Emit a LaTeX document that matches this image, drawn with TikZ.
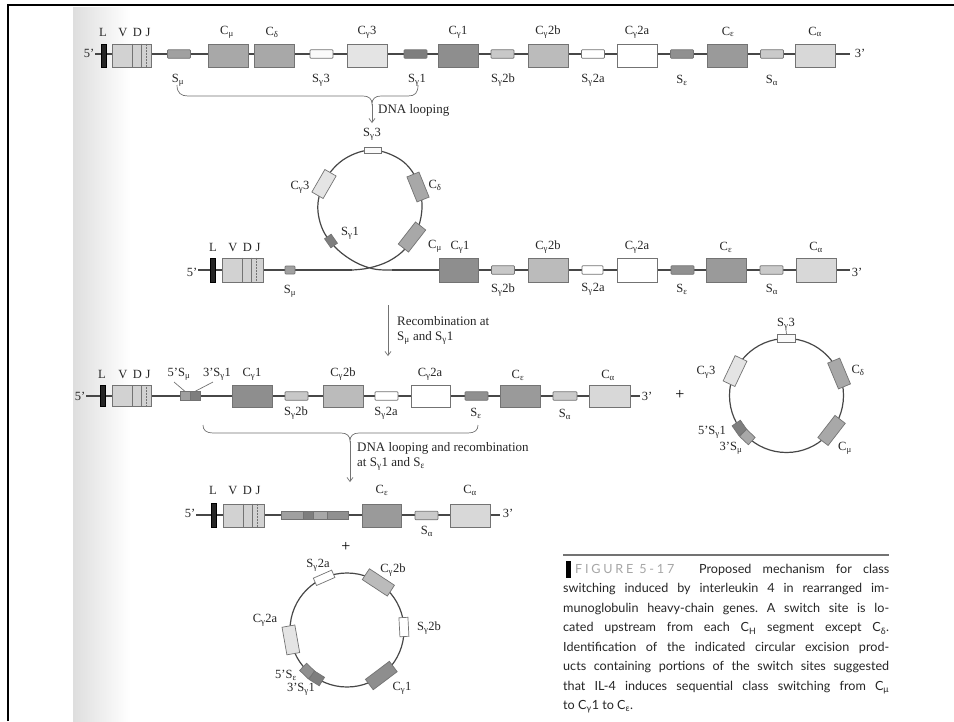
\documentclass[tikz,border=0pt]{standalone}
\usepackage{fontspec}
\setmainfont{Liberation Serif}
\newfontfamily\capfont{Lato}
\usetikzlibrary{arrows.meta,calc}
\definecolor{fvdj}{HTML}{D2D2D2}
\definecolor{fmu}{HTML}{A8A8A8}
\definecolor{fgt}{HTML}{E4E4E4}
\definecolor{fgo}{HTML}{8E8E8E}
\definecolor{fgb}{HTML}{BBBBBB}
\definecolor{fga}{HTML}{FFFFFF}
\definecolor{feps}{HTML}{9A9A9A}
\definecolor{falp}{HTML}{D8D8D8}
\definecolor{smu}{HTML}{A0A0A0}
\definecolor{sgt}{HTML}{FAFAFA}
\definecolor{sgo}{HTML}{7E7E7E}
\definecolor{sgb}{HTML}{C8C8C8}
\definecolor{seps}{HTML}{909090}
\definecolor{salp}{HTML}{CACACA}
\newcommand\vdjdiv[1]{%
  \draw[divl] ($(#1.north west)+(21,0)$) -- ($(#1.south west)+(21,0)$);
  \draw[divl] ($(#1.north west)+(30,0)$) -- ($(#1.south west)+(30,0)$);
  \draw[divl,densely dotted] ($(#1.north west)+(35,0)$) -- ($(#1.south west)+(35,0)$);}
\newcommand\Sg{S\textsubscript{γ}}
\newcommand\Cg{C\textsubscript{γ}}
\frenchspacing
\begin{document}
\begin{tikzpicture}[x=1pt,y=1pt,
  dna/.style={draw=black!72, line width=1.2pt},
  cbox/.style={draw=black!55, line width=0.7pt, inner sep=0, minimum width=40pt, minimum height=23pt},
  sbox/.style={draw=black!55, line width=0.7pt, inner sep=0, minimum width=23pt, minimum height=8.5pt, rounded corners=0.8pt},
  lbar/.style={fill=black!85, draw=black, line width=0.4pt, inner sep=0, minimum width=5pt, minimum height=23pt},
  rbox/.style={draw=black!55, line width=0.7pt, inner sep=0, minimum width=13pt, minimum height=28pt},
  rsm/.style={draw=black!55, line width=0.7pt, inner sep=0, minimum width=8pt, minimum height=18pt},
  divl/.style={draw=black!55, line width=0.5pt},
  lab/.style={font=\fontsize{12.5}{13}\selectfont, inner sep=0, text=black!85},
  ann/.style={font=\fontsize{13}{14}\selectfont, inner sep=0, text=black!85},
  conn/.style={draw=black!55, line width=0.7pt},
  arr/.style={conn, -{Straight Barb[length=4pt,width=6pt]}},
]
\useasboundingbox (0,0) rectangle (954,-721);
\fill[white] (0,0) rectangle (954,-721);
\shade[left color=black!13, right color=white] (73,-7) rectangle (130,-721);
\draw[line width=2.5pt] (8,-721) -- (8,-5) -- (954,-5);

% ================= Row 1 =================
\coordinate (r1s) at (95,-54);
\coordinate (r1e) at (850,-54);
\draw[dna] (r1s) -- (r1e);
\node[lab] (r1five) at (89,-53) {5'};
\node[lab] (r1three) at (860,-53) {3'};
\node[lbar] (r1L) at (103.5,-55.5) {};
\node[cbox, fill=fvdj, minimum width=39pt] (r1vdj) at (131.5,-55.5) {};
\vdjdiv{r1vdj}
\node[lab] (r1Lt) at (103,-32) {L};
\node[lab] (r1V) at (123,-32) {V};
\node[lab] (r1D) at (137.5,-32) {D};
\node[lab] (r1J) at (148,-32) {J};
\node[sbox, fill=smu] (r1smu) at (179,-54) {};
\node[lab] (r1smut) at (178,-80) {S\textsubscript{μ}};
\node[cbox, fill=fmu] (r1cmu) at (228,-55.5) {};
\node[lab] (r1cmut) at (227,-32) {C\textsubscript{μ}};
\node[cbox, fill=fmu] (r1cd) at (274.5,-55.5) {};
\node[lab] (r1cdt) at (272,-32) {C\textsubscript{δ}};
\node[sbox, fill=sgt] (r1sg3) at (321.5,-54) {};
\node[lab] (r1sg3t) at (321,-80) {\Sg3};
\node[cbox, fill=fgt] (r1cg3) at (367.5,-55.5) {};
\node[lab] (r1cg3t) at (367,-32) {\Cg3};
\node[sbox, fill=sgo] (r1sg1) at (415.5,-54) {};
\node[lab] (r1sg1t) at (417,-80) {\Sg1};
\node[cbox, fill=fgo] (r1cg1) at (458.5,-55.5) {};
\node[lab] (r1cg1t) at (458,-32) {\Cg1};
\node[sbox, fill=sgb] (r1sg2b) at (502.5,-54) {};
\node[lab] (r1sg2bt) at (503,-80) {\Sg2b};
\node[cbox, fill=fgb] (r1cg2b) at (548,-55.5) {};
\node[lab] (r1cg2bt) at (548,-32) {\Cg2b};
\node[sbox, fill=white] (r1sg2a) at (593,-54) {};
\node[lab] (r1sg2at) at (593,-80) {\Sg2a};
\node[cbox, fill=fga] (r1cg2a) at (637.5,-55.5) {};
\node[lab] (r1cg2at) at (637,-32) {\Cg2a};
\node[sbox, fill=seps] (r1se) at (682,-54) {};
\node[lab] (r1set) at (682,-80) {S\textsubscript{ε}};
\node[cbox, fill=feps] (r1ce) at (727.5,-55.5) {};
\node[lab] (r1cet) at (728,-32) {C\textsubscript{ε}};
\node[sbox, fill=salp] (r1sa) at (772,-54) {};
\node[lab] (r1sat) at (772,-80) {S\textsubscript{α}};
\node[cbox, fill=falp] (r1ca) at (815.5,-55.5) {};
\node[lab] (r1cat) at (815,-32) {C\textsubscript{α}};

% brace 1 + arrow
\coordinate (b1l) at (177,-85);
\coordinate (b1r) at (418,-85);
\coordinate (b1tip) at (372,-104);
\coordinate (c1top) at (372,-123);
\draw[conn] (b1l) .. controls (177,-93) and (181,-96) .. (188,-96) -- (363,-96)
  .. controls (369,-96) and (372,-99) .. (b1tip)
  .. controls (372,-99) and (375,-96) .. (381,-96) -- (408,-96)
  .. controls (415,-96) and (418,-93) .. (b1r);
\draw[arr] (b1tip) -- (c1top);
\node[ann, anchor=west] (t1) at (378,-110) {DNA looping};

% ================= Row 2 with loop =================
\coordinate (r2s) at (198,-270);
\coordinate (r2a) at (352,-270);
\coordinate (r2b) at (392,-270);
\coordinate (r2e) at (850,-270);
\draw[dna] (r2s) -- (r2a);
\draw[dna] (r2b) -- (r2e);
\draw[dna] plot[smooth, tension=0.6] coordinates {(352,-270) (369,-268) (389,-261) (406,-248) (418,-228) (422,-205) (417,-180) (401,-160) (373,-150) (346,-158) (327,-177) (318,-203) (322,-228) (336,-248) (355,-262) (374,-269) (392,-270)};
\node[lab] (r2five) at (192,-272) {5'};
\node[lab] (r2three) at (857,-272) {3'};
\node[lbar, minimum height=24pt] (r2L) at (212.5,-270) {};
\node[cbox, fill=fvdj, minimum width=41pt, minimum height=24pt] (r2vdj) at (242.5,-270) {};
\vdjdiv{r2vdj}
\node[lab] (r2Lt) at (213,-247) {L};
\node[lab] (r2V) at (233,-247) {V};
\node[lab] (r2D) at (247.5,-247) {D};
\node[lab] (r2J) at (258,-247) {J};
\node[sbox, fill=smu, minimum width=10pt, minimum height=8pt] (r2smu) at (290,-270) {};
\node[lab] (r2smut) at (290,-291) {S\textsubscript{μ}};
% loop elements
\node[rsm, fill=sgt, minimum width=6.5pt, minimum height=17pt, rotate=90] (l1sg3) at (373,-150.5) {};
\node[lab] (l1sg3t) at (372,-134) {\Sg3};
\node[rbox, fill=fgt, minimum height=26pt, rotate=150] (l1cg3) at (324,-184) {};
\node[lab] (l1cg3t) at (300,-187) {\Cg3};
\node[rbox, fill=fmu, minimum height=27pt, rotate=22] (l1cd) at (418,-187) {};
\node[lab] (l1cdt) at (435,-185) {C\textsubscript{δ}};
\node[rbox, fill=fmu, rotate=-38] (l1cmu) at (412,-237) {};
\node[lab] (l1cmut) at (435,-246) {C\textsubscript{μ}};
\node[rsm, fill=sgo, minimum width=8pt, minimum height=11pt, rotate=215] (l1sg1) at (331,-241) {};
\node[lab] (l1sg1t) at (350,-233) {\Sg1};
% right part
\node[cbox, fill=fgo, minimum width=39pt, minimum height=24pt] (r2cg1) at (458.5,-270) {};
\node[lab] (r2cg1t) at (460,-247) {\Cg1};
\node[sbox, fill=sgb] (r2sg2b) at (503,-270) {};
\node[lab] (r2sg2bt) at (503,-290) {\Sg2b};
\node[cbox, fill=fgb, minimum height=24pt] (r2cg2b) at (548,-270) {};
\node[lab] (r2cg2bt) at (548,-247) {\Cg2b};
\node[sbox, fill=white, minimum width=21pt] (r2sg2a) at (592.5,-270) {};
\node[lab] (r2sg2at) at (593,-289) {\Sg2a};
\node[cbox, fill=fga, minimum height=24pt] (r2cg2a) at (637,-270) {};
\node[lab] (r2cg2at) at (637,-247) {\Cg2a};
\node[sbox, fill=seps] (r2se) at (682.5,-270) {};
\node[lab] (r2set) at (682,-289) {S\textsubscript{ε}};
\node[cbox, fill=feps, minimum height=24pt] (r2ce) at (726,-270) {};
\node[lab] (r2cet) at (726,-247) {C\textsubscript{ε}};
\node[sbox, fill=salp] (r2sa) at (771.5,-270) {};
\node[lab] (r2sat) at (772,-289) {S\textsubscript{α}};
\node[cbox, fill=falp, minimum height=24pt] (r2ca) at (816,-270) {};
\node[lab] (r2cat) at (816,-247) {C\textsubscript{α}};

% arrow 2
\coordinate (a2s) at (388,-305);
\coordinate (a2e) at (388,-356);
\draw[arr] (a2s) -- (a2e);
\node[ann, anchor=west] (t2a) at (397,-321) {Recombination at};
\node[ann, anchor=west] (t2b) at (397,-338) {S\textsubscript{μ} and \Sg1};

% ================= Row 3 =================
\coordinate (r3s) at (86,-396);
\coordinate (r3e) at (640,-396);
\draw[dna] (r3s) -- (r3e);
\node[lab] (r3five) at (80,-396) {5'};
\node[lab] (r3three) at (647,-396) {3'};
\node[lbar, minimum height=21pt] (r3L) at (102.5,-396) {};
\node[cbox, fill=fvdj, minimum width=39pt, minimum height=21pt] (r3vdj) at (131.5,-396) {};
\vdjdiv{r3vdj}
\node[lab] (r3Lt) at (102,-374) {L};
\node[lab] (r3V) at (123,-374) {V};
\node[lab] (r3D) at (137.5,-374) {D};
\node[lab] (r3J) at (148,-374) {J};
\node[sbox, fill=smu, minimum width=10pt, rounded corners=0pt] (r3hya) at (185,-396) {};
\node[sbox, fill=sgo, minimum width=10pt, rounded corners=0pt] (r3hyb) at (195,-396) {};
\node[lab] (r3l5) at (179,-374) {5'S\textsubscript{μ}};
\node[lab] (r3l3) at (217,-374) {3'\Sg1};
\coordinate (r3q1) at (174,-382);
\coordinate (r3q2) at (213,-382);
\draw[conn] (r3q1) -- (r3hya.north);
\draw[conn] (r3q2) -- (r3hyb.north);
\node[cbox, fill=fgo, minimum height=22pt] (r3cg1) at (252,-396) {};
\node[lab] (r3cg1t) at (252,-374) {\Cg1};
\node[sbox, fill=sgb] (r3sg2b) at (296.5,-396) {};
\node[lab] (r3sg2bt) at (296,-413) {\Sg2b};
\node[cbox, fill=fgb, minimum height=22pt] (r3cg2b) at (343,-396) {};
\node[lab] (r3cg2bt) at (343,-374) {\Cg2b};
\node[sbox, fill=white] (r3sg2a) at (386.5,-396) {};
\node[lab] (r3sg2at) at (386,-413) {\Sg2a};
\node[cbox, fill=fga, minimum width=39pt, minimum height=22pt] (r3cg2a) at (430.5,-396) {};
\node[lab] (r3cg2at) at (430,-374) {\Cg2a};
\node[sbox, fill=seps] (r3se) at (476.5,-396) {};
\node[lab] (r3set) at (476,-413) {S\textsubscript{ε}};
\node[cbox, fill=feps, minimum height=22pt] (r3ce) at (520,-396) {};
\node[lab] (r3cet) at (518,-375) {C\textsubscript{ε}};
\node[sbox, fill=salp, minimum width=24pt] (r3sa) at (565,-396) {};
\node[lab] (r3sat) at (565,-414) {S\textsubscript{α}};
\node[cbox, fill=falp, minimum width=41pt, minimum height=22pt] (r3ca) at (609.5,-396) {};
\node[lab] (r3cat) at (608,-375) {C\textsubscript{α}};
\node[font=\fontsize{16}{16}\selectfont, inner sep=0] (plus1) at (680,-395) {+};

% circle 2
\coordinate (c2c) at (786.5,-395.5);
\draw[dna] (c2c) circle[radius=57pt];
\node[rsm, fill=sgt, rotate=90] (c2sg3) at ($(c2c)+(90:57pt)$) {};
\node[lab] (c2sg3t) at (786,-324) {\Sg3};
\draw[conn] (786,-330) -- (c2sg3.east);
\node[rbox, fill=fgt, rotate=154.6] (c2cg3) at ($(c2c)+(154.6:57pt)$) {};
\node[lab] (c2cg3t) at (706,-372) {\Cg3};
\node[rbox, fill=fmu, rotate=22.7] (c2cd) at ($(c2c)+(22.7:57pt)$) {};
\node[lab] (c2cdt) at (858,-370) {C\textsubscript{δ}};
\node[rbox, fill=fmu, rotate=-37.8] (c2cmu) at ($(c2c)+(-37.8:57pt)$) {};
\node[lab] (c2cmut) at (845,-448) {C\textsubscript{μ}};
\node[rsm, fill=sgo, minimum width=10pt, minimum height=12pt, rotate=214.7] (c2hya) at ($(c2c)+(214.7:57pt)$) {};
\node[rsm, fill=fmu, minimum width=10pt, minimum height=12pt, rotate=226.7] (c2hyb) at ($(c2c)+(226.7:57pt)$) {};
\node[lab] (c2l5) at (712,-432) {5'\Sg1};
\node[lab] (c2l3) at (731,-448) {3'S\textsubscript{μ}};

% brace 2 + arrow
\coordinate (b2l) at (203,-425);
\coordinate (b2r) at (478,-425);
\coordinate (b2tip) at (350,-441);
\coordinate (a3e) at (350,-482);
\draw[conn] (b2l) .. controls (203,-430) and (206,-433) .. (213,-433) -- (341,-433)
  .. controls (347,-433) and (350,-436) .. (b2tip)
  .. controls (350,-436) and (353,-433) .. (359,-433) -- (468,-433)
  .. controls (475,-433) and (478,-430) .. (b2r);
\draw[arr] (b2tip) -- (a3e);
\node[ann, anchor=west] (t3a) at (357,-448) {DNA looping and recombination};
\node[ann, anchor=west] (t3b) at (357,-464) {at \Sg1 and S\textsubscript{ε}};

% ================= Row 4 =================
\coordinate (r4s) at (196,-515);
\coordinate (r4e) at (500,-515);
\draw[dna] (r4s) -- (r4e);
\node[lab] (r4five) at (190,-513) {5'};
\node[lab] (r4three) at (508,-513) {3'};
\node[lbar, minimum height=24pt] (r4L) at (214,-515) {};
\node[cbox, fill=fvdj, minimum width=41pt] (r4vdj) at (243.5,-515.5) {};
\vdjdiv{r4vdj}
\node[lab] (r4Lt) at (213,-490) {L};
\node[lab] (r4V) at (233,-490) {V};
\node[lab] (r4D) at (247.5,-490) {D};
\node[lab] (r4J) at (258,-490) {J};
\node[sbox, fill=smu, minimum width=22pt, minimum height=7.5pt, rounded corners=0pt] (r4h1) at (292,-515.5) {};
\node[sbox, fill=sgo, minimum width=10pt, minimum height=7.5pt, rounded corners=0pt] (r4h2) at (308,-515.5) {};
\node[sbox, fill=fmu, minimum width=14pt, minimum height=7.5pt, rounded corners=0pt] (r4h3) at (320,-515.5) {};
\node[sbox, fill=seps, minimum width=21pt, minimum height=7.5pt, rounded corners=0pt] (r4h4) at (337.5,-515.5) {};
\node[cbox, fill=feps, minimum width=39pt] (r4ce) at (381.5,-515.5) {};
\node[lab] (r4cet) at (382,-490) {C\textsubscript{ε}};
\node[sbox, fill=salp] (r4sa) at (426.5,-515.5) {};
\node[lab] (r4sat) at (427,-531) {S\textsubscript{α}};
\node[cbox, fill=falp] (r4ca) at (470,-515.5) {};
\node[lab] (r4cat) at (470,-490) {C\textsubscript{α}};
\node[font=\fontsize{16}{16}\selectfont, inner sep=0] (plus2) at (346,-547) {+};

% circle 3
\coordinate (c3c) at (347,-630);
\draw[dna] (c3c) circle[radius=57pt];
\node[rsm, fill=white, minimum height=20pt, rotate=113.7] (c3sg2a) at ($(c3c)+(113.7:57pt)$) {};
\node[lab] (c3sg2at) at (318,-565) {\Sg2a};
\node[rbox, fill=fgb, minimum height=30pt, rotate=56.6] (c3cg2b) at ($(c3c)+(56.6:57pt)$) {};
\node[lab] (c3cg2bt) at (393,-570) {\Cg2b};
\node[rsm, fill=white, minimum width=9pt, minimum height=19pt, rotate=3] (c3sg2b) at ($(c3c)+(3:57pt)$) {};
\node[lab] (c3sg2bt) at (429,-628) {\Sg2b};
\node[rbox, fill=fgo, minimum height=30pt, rotate=-53] (c3cg1) at ($(c3c)+(-53:57pt)$) {};
\node[lab] (c3cg1t) at (402,-688) {\Cg1};
\node[rbox, fill=fgt, rotate=190] (c3cg2a) at ($(c3c)+(190:57pt)$) {};
\node[lab] (c3cg2at) at (265,-620) {\Cg2a};
\node[rsm, fill=seps, minimum width=10pt, minimum height=12pt, rotate=226] (c3hya) at ($(c3c)+(226:57pt)$) {};
\node[rsm, fill=sgo, minimum width=10pt, minimum height=12pt, rotate=238] (c3hyb) at ($(c3c)+(238:57pt)$) {};
\node[lab] (c3l5) at (286,-675) {5'S\textsubscript{ε}};
\node[lab] (c3l3) at (301,-689) {3'\Sg1};

% ================= Caption =================
\coordinate (rl) at (563,-555);
\coordinate (rr) at (889,-555);
\draw[draw=black!55, line width=1.6pt] (rl) -- (rr);
\node[fill=black, inner sep=0, minimum width=5pt, minimum height=17pt] (capbar) at (568.5,-569) {};
\node[anchor=north west, inner sep=0, text width=326pt, align=justify,
      font=\capfont\fontsize{12.6}{19.5}\selectfont, text=black!85] (cap) at (563,-564) {%
\hspace*{12pt}\makebox[124pt][l]{\color{black!35}\addfontfeature{LetterSpace=22}FIGURE\hspace{6pt}5-17}Proposed mechanism for class\linebreak
switching induced by interleukin 4 in rearranged im-\linebreak
munoglobulin heavy-chain genes. A switch site is lo-\linebreak
cated upstream from each C\textsubscript{H} segment except C\textsubscript{δ}.\linebreak
Identification of the indicated circular excision prod-\linebreak
ucts containing portions of the switch sites suggested\linebreak
that IL-4 induces sequential class switching from C\textsubscript{μ}\linebreak
to C\textsubscript{γ}1 to C\textsubscript{ε}.\par};
\end{tikzpicture}
\end{document}
